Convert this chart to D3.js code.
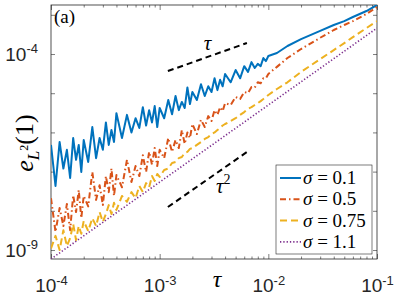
<!DOCTYPE html>
<html lang="en">
<head>
<meta charset="UTF-8">
<title>error vs tau</title>
<script src="https://d3js.org/d3.v7.min.js"></script>
<style>
    body { margin: 0; background: #fff; }
    svg { display: block; }
    .tick text { font-family: "Liberation Sans", Arial, sans-serif; font-size: 19px; fill: #262626; }
    .tick line { stroke: #262626; stroke-width: 0.6; }
    .domain { display: none; }
    .math { font-family: "Liberation Serif", "DejaVu Serif", serif; fill: #000; }
</style>
</head>
<body>
<svg id="chart" width="395" height="296"></svg>
<script>
    // time steps (shared by the three noisy runs)
    var tau = [1.0e-4, 1.1e-4, 1.2e-4, 1.3e-4, 1.4e-4, 1.5e-4, 1.6e-4, 1.7e-4, 1.8e-4, 1.9e-4, 2.0e-4,
        2.2e-4, 2.4e-4, 2.6e-4, 2.8e-4, 3.0e-4, 3.2e-4, 3.4e-4, 3.6e-4, 3.8e-4, 4.0e-4,
        4.5e-4, 5.0e-4, 5.5e-4, 6.0e-4, 6.5e-4, 7.0e-4, 7.5e-4, 8.0e-4, 8.5e-4, 9.0e-4, 9.5e-4, 1.0e-3,
        1.1e-3, 1.2e-3, 1.3e-3, 1.4e-3, 1.5e-3, 1.6e-3, 1.7e-3, 1.8e-3, 1.9e-3, 2.0e-3,
        2.2e-3, 2.4e-3, 2.6e-3, 2.8e-3, 3.0e-3, 3.2e-3, 3.4e-3, 3.6e-3, 3.8e-3, 4.0e-3,
        4.5e-3, 5.0e-3, 5.5e-3, 6.0e-3, 6.5e-3, 7.0e-3, 7.5e-3, 8.0e-3, 8.5e-3, 9.0e-3, 9.5e-3, 1.0e-2,
        1.2e-2, 1.5e-2, 2.0e-2, 3.0e-2, 4.0e-2, 5.0e-2, 6.0e-2, 8.0e-2, 1.0e-1];

    var errS01 = [4.8e-7, 4.3e-8, 5.7e-7, 1.2e-7, 3.6e-7, 6.9e-8, 7.2e-7, 2.0e-7, 4.8e-7, 9.8e-8, 6.4e-7,
        1.76e-7, 1.37e-6, 2.2e-7, 7.2e-7, 3.6e-7, 1.8e-6, 4.8e-7, 1.15e-6, 5.7e-7, 3.1e-6,
        7.2e-7, 2.8e-6, 1.0e-6, 2.3e-6, 1.3e-6, 4.4e-6, 1.5e-6, 3.7e-6, 1.8e-6, 4.7e-6, 1.37e-6, 4.2e-6,
        2.3e-6, 6.7e-6, 2.9e-6, 8.5e-6, 3.7e-6, 6.0e-6, 4.2e-6, 1.4e-5, 5.3e-6, 1.07e-5,
        6.7e-6, 1.7e-5, 8.5e-6, 1.5e-5, 1.07e-5, 2.4e-5, 1.2e-5, 2.2e-5, 1.5e-5, 3.1e-5,
        1.9e-5, 3.9e-5, 2.4e-5, 4.9e-5, 3.5e-5, 6.2e-5, 4.4e-5, 5.6e-5, 4.9e-5, 7.9e-5, 6.6e-5, 8.9e-5,
        1.06e-4, 1.6e-4, 2.4e-4, 3.9e-4, 5.5e-4, 6.9e-4, 8.8e-4, 1.25e-3, 1.78e-3];

    var errS05 = [2.1e-8, 2.9e-9, 1.18e-8, 4.1e-9, 1.5e-8, 3.2e-9, 2.5e-8, 9.3e-9, 3.4e-8, 6.5e-9, 2.4e-8,
        1.3e-8, 9.8e-8, 1.9e-8, 4.5e-8, 1.4e-8, 7.7e-8, 3.0e-8, 1.2e-7, 2.4e-8, 8.2e-8,
        4.0e-8, 2.0e-7, 5.4e-8, 1.39e-7, 7.7e-8, 2.6e-7, 9.8e-8, 3.2e-7, 1.5e-7, 4.0e-7, 1.39e-7, 3.6e-7,
        2.2e-7, 7.2e-7, 3.2e-7, 6.4e-7, 4.0e-7, 1.15e-6, 5.1e-7, 1.0e-6, 7.2e-7, 1.64e-6,
        9.1e-7, 2.1e-6, 1.37e-6, 2.6e-6, 1.95e-6, 3.7e-6, 2.8e-6, 4.4e-6, 3.5e-6, 5.6e-6,
        5.0e-6, 8.0e-6, 7.1e-6, 1.07e-5, 1.01e-5, 1.44e-5, 1.4e-5, 1.9e-5, 1.8e-5, 2.4e-5, 2.4e-5, 3.1e-5,
        4.7e-5, 7.9e-5, 1.34e-4, 2.6e-4, 4.1e-4, 5.5e-4, 6.9e-4, 1.05e-3, 1.58e-3];

    var errS075 = [1.1e-9, 2.3e-9, 1.0e-9, 3.2e-9, 1.26e-9, 2.0e-9, 4.6e-9, 1.8e-9, 4.1e-9, 2.6e-9, 5.5e-9,
        3.05e-9, 6.5e-9, 4.1e-9, 9.3e-9, 5.2e-9, 8.3e-9, 1.4e-8, 8.3e-9, 1.6e-8, 1.05e-8,
        2.4e-8, 1.7e-8, 3.0e-8, 2.1e-8, 4.3e-8, 3.0e-8, 5.1e-8, 4.0e-8, 7.7e-8, 5.8e-8, 8.7e-8, 7.3e-8,
        1.1e-7, 1.2e-7, 1.66e-7, 1.76e-7, 2.2e-7, 2.36e-7, 3.0e-7, 3.2e-7, 3.8e-7, 4.0e-7,
        4.8e-7, 5.7e-7, 6.8e-7, 7.6e-7, 9.1e-7, 1.0e-6, 1.15e-6, 1.3e-6, 1.5e-6, 1.64e-6,
        1.95e-6, 2.3e-6, 2.8e-6, 3.3e-6, 4.0e-6, 4.4e-6, 5.0e-6, 5.6e-6, 6.3e-6, 7.1e-6, 8.0e-6, 9.0e-6,
        1.28e-5, 1.9e-5, 3.5e-5, 7.4e-5, 1.26e-4, 1.9e-4, 2.7e-4, 4.6e-4, 6.9e-4];

    var tauS11 = [1e-4, 1e-3, 1e-2, 1e-1];
    var errS11 = [5.9e-10, 5.4e-8, 5.0e-6, 4.6e-4];

    // slope guides
    var guideTau = [1.19e-3, 6.35e-3];
    var guideOrder1 = [3.68e-5, 1.91e-4];
    var guideOrder2 = [1.25e-8, 3.16e-7];

    var legendLabels = ["0.1", "0.5", "0.75", "1.1"];
    var xTicks = [1e-4, 1e-3, 1e-2, 1e-1];
    var yTicks = [1e-9, 1e-8, 1e-7, 1e-6, 1e-5, 1e-4, 1e-3];
    var yLabelled = [1e-9, 1e-4];

    var series = [
        { tau: tau, err: errS01, color: "#0072BD", dash: null, width: 2 },
        { tau: tau, err: errS05, color: "#D95319", dash: "6,3,1.5,3", width: 2 },
        { tau: tau, err: errS075, color: "#EDB120", dash: "7,4", width: 2 },
        { tau: tauS11, err: errS11, color: "#7E2F8E", dash: "1.3,2", width: 1.6 }
    ];

    var L = 51, R = 377, T = 5, B = 259;
    var svg = d3.select("#chart");

    var xScale = d3.scaleLog().domain([1e-4, 1e-1]).range([L, R]);
    var yScale = d3.scaleLog().domain([5.9e-10, 1.78e-3]).range([B, T]);

    svg.append("clipPath").attr("id", "clip")
        .append("rect").attr("x", L).attr("y", T).attr("width", R - L).attr("height", B - T);

    // minor x ticks
    var minor = [];
    xTicks.slice(0, 3).forEach(function (d) {
        for (var k = 2; k <= 9; k++) minor.push(d * k);
    });

    function supLabel(sel, anchor) {
        sel.each(function (d) {
            var t = d3.select(this);
            var e = Math.round(Math.log10(d));
            t.text("").attr("text-anchor", anchor);
            t.append("tspan").text("10");
            t.append("tspan").attr("font-size", 13).attr("dy", "-0.55em").text("-" + Math.abs(e));
        });
    }

    var gx = svg.append("g").attr("transform", "translate(0," + B + ")")
        .call(d3.axisBottom(xScale).tickValues(xTicks).tickSizeInner(-5).tickSizeOuter(0).tickPadding(20));
    supLabel(gx.selectAll(".tick text"), "middle");
    svg.append("g").attr("transform", "translate(0," + B + ")")
        .call(d3.axisBottom(xScale).tickValues(minor).tickSizeInner(-2.5).tickSizeOuter(0).tickFormat(""));
    svg.append("g").attr("transform", "translate(0," + T + ")")
        .call(d3.axisTop(xScale).tickValues(xTicks).tickSizeInner(-5).tickSizeOuter(0).tickFormat(""));
    svg.append("g").attr("transform", "translate(0," + T + ")")
        .call(d3.axisTop(xScale).tickValues(minor).tickSizeInner(-2.5).tickSizeOuter(0).tickFormat(""));

    var gy = svg.append("g").attr("transform", "translate(" + L + ",0)")
        .call(d3.axisLeft(yScale).tickValues(yTicks).tickSizeInner(-4).tickSizeOuter(0).tickPadding(13));
    gy.selectAll(".tick text").filter(function (d) { return yLabelled.indexOf(d) < 0; }).remove();
    supLabel(gy.selectAll(".tick text"), "end");
    svg.append("g").attr("transform", "translate(" + R + ",0)")
        .call(d3.axisRight(yScale).tickValues(yTicks).tickSizeInner(-4).tickSizeOuter(0).tickFormat(""));

    svg.append("rect").attr("x", L).attr("y", T).attr("width", R - L).attr("height", B - T)
        .attr("fill", "none").attr("stroke", "#262626").attr("stroke-width", 0.8);

    var plot = svg.append("g").attr("clip-path", "url(#clip)");

    series.forEach(function (s) {
        var line = d3.line()
            .x(function (d, i) { return xScale(s.tau[i]); })
            .y(function (d) { return yScale(d); });
        plot.append("path")
            .attr("d", line(s.err))
            .attr("fill", "none")
            .attr("stroke", s.color)
            .attr("stroke-width", s.width)
            .attr("stroke-linejoin", "round")
            .attr("stroke-dasharray", s.dash);
    });

    [guideOrder1, guideOrder2].forEach(function (g) {
        var line = d3.line()
            .x(function (d, i) { return xScale(guideTau[i]); })
            .y(function (d) { return yScale(d); });
        plot.append("path")
            .attr("d", line(g))
            .attr("fill", "none")
            .attr("stroke", "#000")
            .attr("stroke-width", 2)
            .attr("stroke-dasharray", "6,4");
    });

    svg.append("text").attr("class", "math")
        .attr("x", xScale(2.75e-3)).attr("y", yScale(1.25e-4))
        .attr("text-anchor", "middle").attr("font-size", 21).attr("font-style", "italic").text("τ");
    var t2 = svg.append("text").attr("class", "math")
        .attr("x", xScale(3.3e-3)).attr("y", yScale(2.9e-8)).attr("font-size", 21);
    t2.append("tspan").attr("font-style", "italic").text("τ");
    t2.append("tspan").attr("font-size", 14).attr("dy", "-0.6em").text("2");

    svg.append("text").attr("class", "math").attr("x", 54).attr("y", 23)
        .attr("font-size", 19).text("(a)");

    // axis labels
    svg.append("text").attr("class", "math")
        .attr("x", 217).attr("y", 287).attr("text-anchor", "middle")
        .attr("font-size", 24).attr("font-style", "italic").text("τ");

    var yl = svg.append("text").attr("class", "math").attr("font-size", 26)
        .attr("text-anchor", "middle")
        .attr("transform", "translate(33,143) rotate(-90)");
    yl.append("tspan").attr("font-style", "italic").text("e");
    yl.append("tspan").attr("font-style", "italic").attr("font-size", 17).attr("dy", 6).text("L");
    yl.append("tspan").attr("font-size", 12).attr("dy", -11).text("2");
    yl.append("tspan").attr("dy", 5).text("(1)");

    // legend
    var lg = svg.append("g").attr("transform", "translate(276,165)");
    lg.append("rect").attr("width", 96).attr("height", 89)
        .attr("fill", "#fff").attr("stroke", "#262626").attr("stroke-width", 0.6);
    legendLabels.forEach(function (lab, i) {
        var yy = 13 + i * 21.3;
        var s = series[i];
        lg.append("line").attr("x1", 4).attr("x2", 25).attr("y1", yy).attr("y2", yy)
            .attr("stroke", s.color).attr("stroke-width", s.width).attr("stroke-dasharray", s.dash);
        var tx = lg.append("text").attr("class", "math").attr("x", 27).attr("y", yy + 6)
            .attr("font-size", 19);
        tx.append("tspan").attr("font-style", "italic").text("σ");
        tx.append("tspan").text(" = " + lab);
    });
</script>
</body>
</html>
